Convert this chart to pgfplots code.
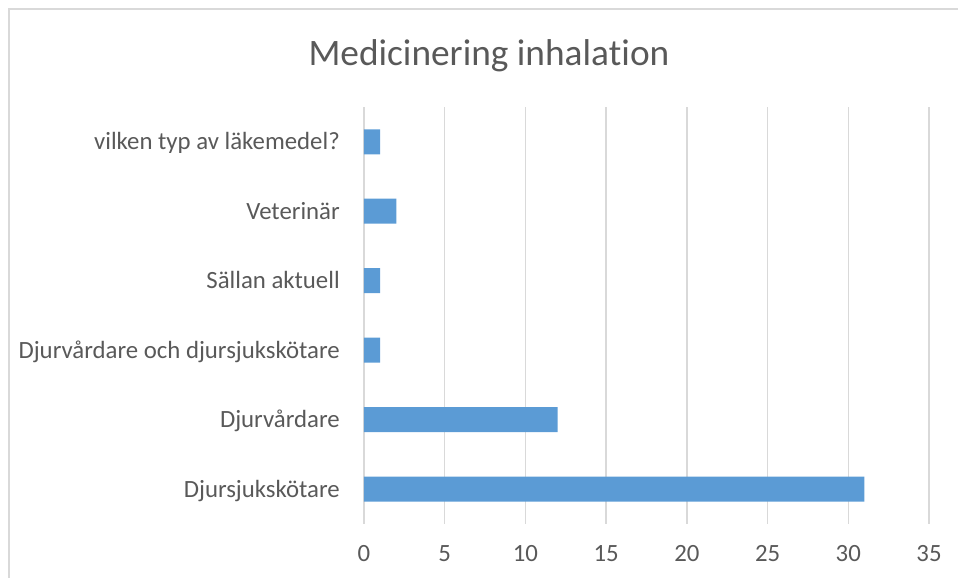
\documentclass[border=0pt]{standalone}
\usepackage{pgfplots}
\pgfplotsset{compat=1.18}
\usepackage{fontspec}
\setmainfont{Carlito}[Ligatures=NoCommon]
\definecolor{barblue}{HTML}{5B9BD5}
\definecolor{gridgray}{HTML}{D9D9D9}
\definecolor{txtgray}{HTML}{595959}
\begin{document}
\begin{tikzpicture}
\useasboundingbox (0,0) rectangle (718.5pt,433.5pt);
\draw[gridgray, line width=1.2pt] (6.75pt,0) -- (6.75pt,426.75pt) -- (718.5pt,426.75pt);
\node[anchor=base, text=txtgray, font=\fontsize{28}{32}\selectfont, inner sep=0pt] at (366.75pt,384pt) {Medicinering inhala\kern0pt tion};
\begin{axis}[
  at={(273pt,40.5pt)}, anchor=south west,
  width=423.75pt, height=312.75pt, scale only axis,
  xbar, bar width=18.75pt,
  xmin=0, xmax=35, xtick={0,5,...,35},
  ymin=-0.5, ymax=5.5, ytick={0,1,2,3,4,5},
  yticklabels={Djursjukskötare, Djurvårdare, Djurvårdare och djursjukskötare, Sällan aktuell\hspace{5pt}, Veterinär, vilken typ av läkemedel?\hspace{5pt}},
  xmajorgrids, grid style={color=gridgray, line width=1.1pt},
  axis line style={draw=none}, major tick length=0pt, tick style={draw=none},
  /pgf/number format/assume math mode=true,
  xticklabel style={font=\fontsize{18.6}{22}\selectfont, text=txtgray, anchor=base, inner sep=0pt, yshift=-28.5pt},
  yticklabel style={font=\fontsize{18.6}{22}\selectfont, text=txtgray, anchor=base east, inner sep=0pt, xshift=-18pt, yshift=-6pt},
  clip=false,
]
\addplot[fill=barblue, draw=none] coordinates {(31,0) (12,1) (1,2) (1,3) (2,4) (1,5)};
\end{axis}
\end{tikzpicture}
\end{document}
